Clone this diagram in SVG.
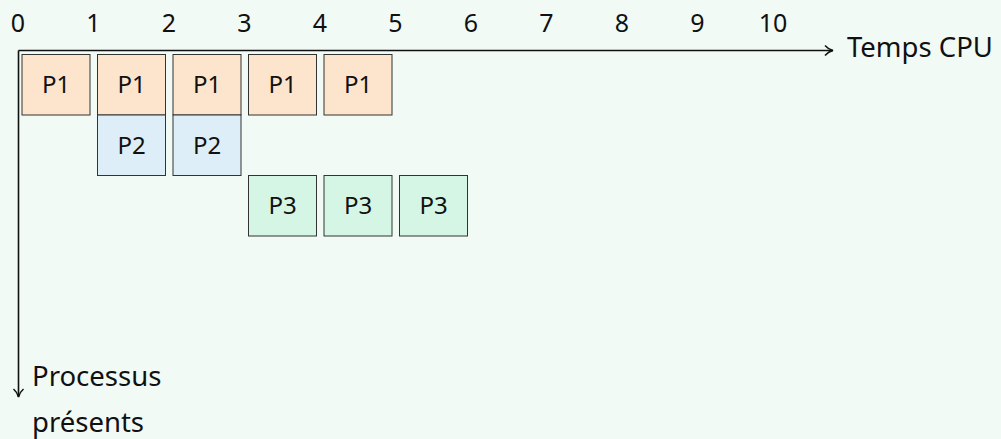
<svg xmlns="http://www.w3.org/2000/svg" width="1001" height="439" viewBox="0 0 1001 439">
<defs>
<style>
text{font-family:"Noto Sans","Open Sans","DejaVu Sans",sans-serif;fill:#111;}
.t{font-size:25px;text-anchor:middle;}
.n{font-size:24px;text-anchor:middle;}
.l{font-size:27.5px;}
.b{stroke:#333;stroke-width:1;}
.p1{fill:#fde4cd;}
.p2{fill:#ddeef8;}
.p3{fill:#d5f6e4;}
.ax{stroke:#111;stroke-width:1.6;fill:none;}
</style>
<marker id="arr" viewBox="0 0 12 12" refX="11" refY="6" markerWidth="12" markerHeight="12" markerUnits="userSpaceOnUse" orient="auto">
<path d="M3,1 Q6.5,5 11,6 Q6.5,7 3,11" fill="none" stroke="#111" stroke-width="1.5"/>
</marker>
</defs>
<rect width="1001" height="439" fill="#f1faf5"/>
<g id="ticks" class="t">
<text x="18" y="32">0</text>
<text x="93.5" y="32">1</text>
<text x="169" y="32">2</text>
<text x="244.5" y="32">3</text>
<text x="320" y="32">4</text>
<text x="395.5" y="32">5</text>
<text x="471" y="32">6</text>
<text x="546.5" y="32">7</text>
<text x="622" y="32">8</text>
<text x="697.5" y="32">9</text>
<text x="773" y="32">10</text>
</g>
<g id="connectors">
<path class="ax" d="M18.5,50.5 H833" marker-end="url(#arr)"/>
<path class="ax" d="M18.5,50.5 V397" marker-end="url(#arr)"/>
</g>
<g id="axis-labels" class="l">
<text x="847" y="57">Temps CPU</text>
<text x="32" y="386">Processus</text>
<text x="32" y="432">présents</text>
</g>
<g id="p1-0"><rect class="b p1" x="22" y="54.5" width="68" height="60.5"/><text class="n" x="56" y="93">P1</text></g>
<g id="p1-1"><rect class="b p1" x="97.5" y="54.5" width="68" height="60.5"/><text class="n" x="131.5" y="93">P1</text></g>
<g id="p1-2"><rect class="b p1" x="173" y="54.5" width="68" height="60.5"/><text class="n" x="207" y="93">P1</text></g>
<g id="p1-3"><rect class="b p1" x="248.5" y="54.5" width="68" height="60.5"/><text class="n" x="282.5" y="93">P1</text></g>
<g id="p1-4"><rect class="b p1" x="324" y="54.5" width="68" height="60.5"/><text class="n" x="358" y="93">P1</text></g>
<g id="p2-1"><rect class="b p2" x="97.5" y="115" width="68" height="60.5"/><text class="n" x="131.5" y="153.5">P2</text></g>
<g id="p2-2"><rect class="b p2" x="173" y="115" width="68" height="60.5"/><text class="n" x="207" y="153.5">P2</text></g>
<g id="p3-3"><rect class="b p3" x="248.5" y="175.5" width="68" height="60.5"/><text class="n" x="282.5" y="214">P3</text></g>
<g id="p3-4"><rect class="b p3" x="324" y="175.5" width="68" height="60.5"/><text class="n" x="358" y="214">P3</text></g>
<g id="p3-5"><rect class="b p3" x="399.5" y="175.5" width="68" height="60.5"/><text class="n" x="433.5" y="214">P3</text></g>
</svg>
